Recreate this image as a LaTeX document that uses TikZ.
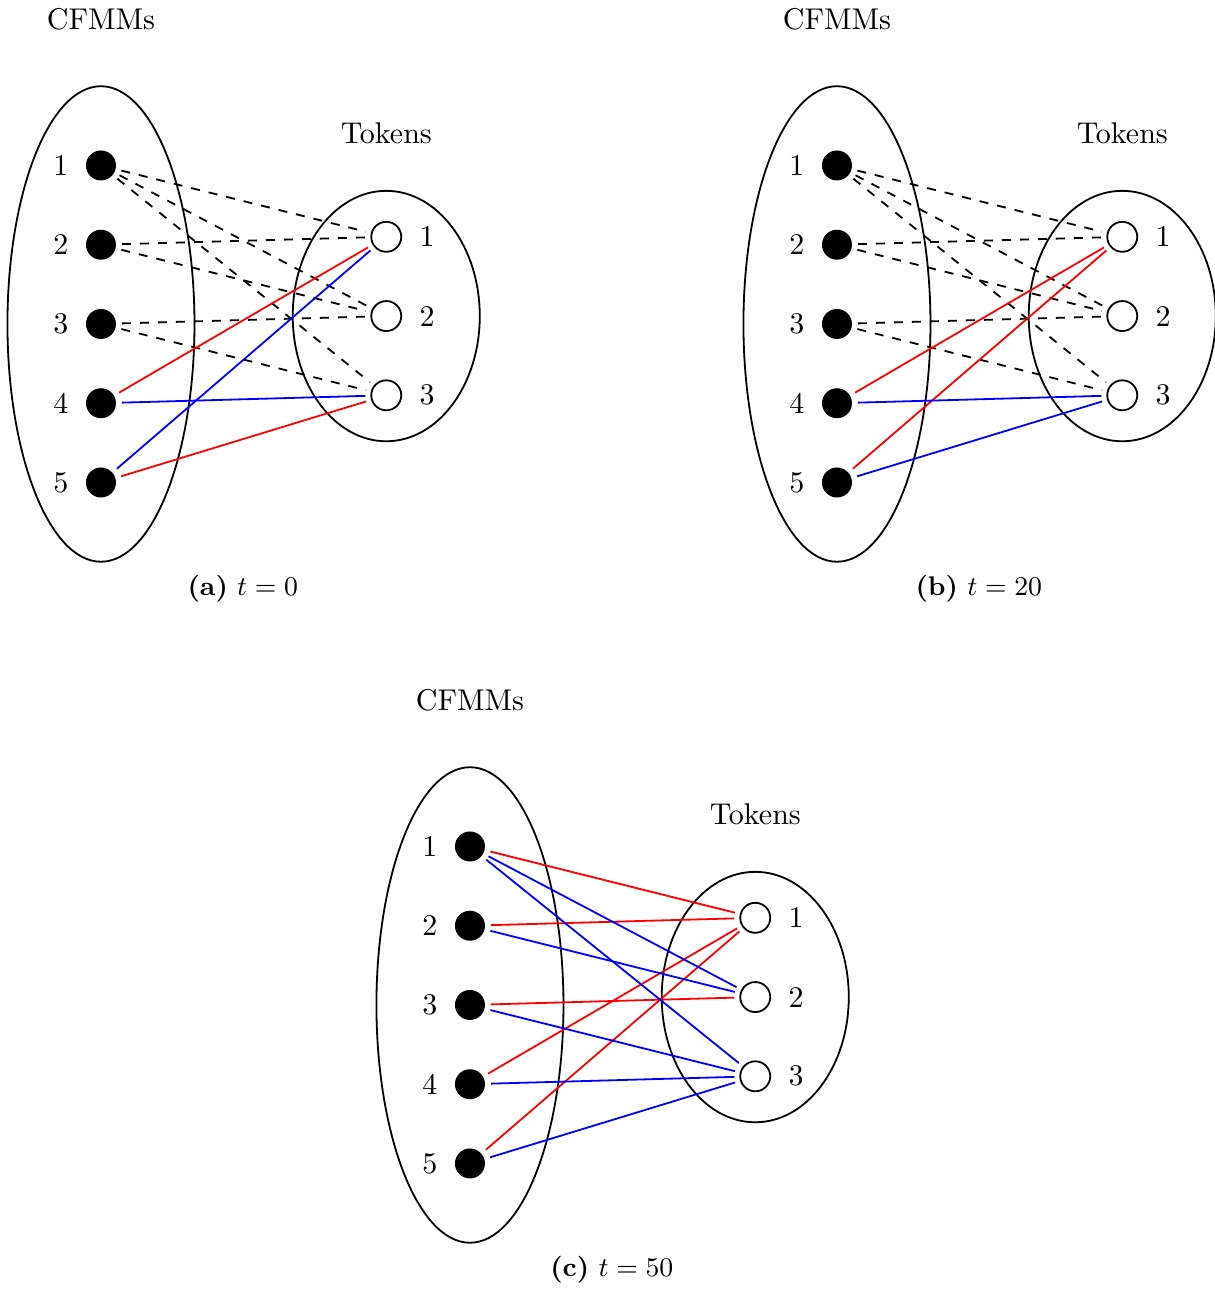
\documentclass[tikz,border=0pt]{standalone}
\usetikzlibrary{positioning}
\tikzset{
    cfmm/.style={circle,fill=black,minimum size=10pt,inner sep=0pt,outer sep=2pt},
    token/.style={circle,draw=black,fill=white,semithick,minimum size=10pt,inner sep=0pt,outer sep=2pt},
    group/.style={draw=black,semithick},
    idle edge/.style={dashed,semithick},
    red edge/.style={red,semithick},
    blue edge/.style={blue,semithick},
}

\begin{document}
\begin{tikzpicture}[x=0.9285cm,y=0.9285cm]
        \useasboundingbox (-1.274,4.088) rectangle (14.057,-12.177);

        \foreach \pan/\sx/\sy/\tval in {a/0/0/0, b/9.287/0/20, c/4.656/-8.593/50}{
            \begin{scope}[shift={(\sx,\sy)}, name prefix=\pan-]
                \draw[group] (0,0) ellipse (1.18 and 3);
                \draw[group] (3.6,0.1) ellipse (1.18 and 1.58);
                \node (cfmms) at (0,3.84) {CFMMs};
                \node (tokens) at (3.6,2.41) {Tokens};
                \foreach \i in {1,...,5}{
                    \node[cfmm] (c\i) at (0,3-\i) {};
                    \node[left=0.3pt of c\i] (cl\i) {\i};
                }
                \foreach \j in {1,2,3}{
                    \node[token] (t\j) at (3.6,2.1-\j) {};
                    \node[right=0.6pt of t\j] (tl\j) {\j};
                }
                \node[font=\small] (caption) at (1.79,-3.34) {\textbf{(\pan)} $t=\tval$};
            \end{scope}
        }

        \foreach \pan in {a,b}{
            \foreach \i/\j in {1/1,1/2,1/3,2/1,2/2,3/2,3/3}
                \draw[idle edge] (\pan-c\i) -- (\pan-t\j);
        }

        \draw[red edge] (a-c4) -- (a-t1);
        \draw[red edge] (a-c5) -- (a-t3);
        \draw[blue edge] (a-c4) -- (a-t3);
        \draw[blue edge] (a-c5) -- (a-t1);

        \draw[red edge] (b-c4) -- (b-t1);
        \draw[red edge] (b-c5) -- (b-t1);
        \draw[blue edge] (b-c4) -- (b-t3);
        \draw[blue edge] (b-c5) -- (b-t3);

        \foreach \i/\j in {1/1,2/1,3/2,4/1,5/1}
            \draw[red edge] (c-c\i) -- (c-t\j);
        \foreach \i/\j in {1/2,1/3,2/2,3/3,4/3,5/3}
            \draw[blue edge] (c-c\i) -- (c-t\j);
    \end{tikzpicture}
\end{document}
